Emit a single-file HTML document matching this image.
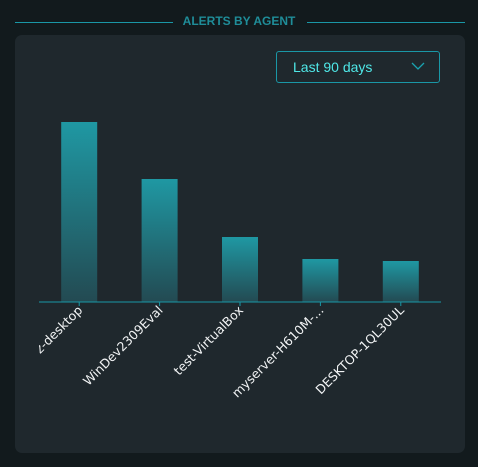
<!DOCTYPE html>
<html><head><meta charset="utf-8"><style>
body{margin:0;width:478px;height:467px;background:#121a1d;font-family:"Liberation Sans",sans-serif;overflow:hidden;position:relative}
.t{position:absolute;top:14px;left:0;width:478px;text-align:center;color:#1f8d99;font-weight:bold;font-size:12px}
.ln{position:absolute;top:22px;height:1px;background:#1a97a6}
.card{position:absolute;left:15px;top:35px;width:450px;height:418px;background:#1f282d;border-radius:7px;overflow:hidden}
.dd{position:absolute;left:261px;top:16px;width:162px;height:30px;border:1px solid #1a97a6;border-radius:3px;color:#4fe8e8;font-size:14px}
</style></head><body>
<div class="t">ALERTS BY AGENT</div>
<div class="ln" style="left:15px;width:158px"></div>
<div class="ln" style="left:307px;width:158px"></div>
<div class="card">
<div class="dd"><span style="position:absolute;left:16px;top:7px">Last 90 days</span>
<svg style="position:absolute;left:134px;top:9px" width="14" height="10"><path d="M1 2 L7 8 L13 2" stroke="#1aa3b0" fill="none" stroke-width="1.3"/></svg></div>
<svg id="c" width="450" height="418" style="position:absolute;left:0;top:0">
<defs><linearGradient id="g" x1="0" y1="0" x2="0" y2="1"><stop offset="0" stop-color="#1f98a3"/><stop offset="1" stop-color="#234a52"/></linearGradient>
<clipPath id="cp"><rect x="24" y="0" width="426" height="418"/></clipPath></defs>
<g id="lab" clip-path="url(#cp)"></g>
</svg></div>
<script>
const categories=["xyz-desktop","WinDev2309Eval","test-VirtualBox","myserver-H610M-...","DESKTOP-1QL30UL"];
const values=[180,123,65,43,41];
const yMax=200;
const svg=document.getElementById('c');const lab=document.getElementById('lab');const NS='http://www.w3.org/2000/svg';
const x0=24,x1=426,yb=267,ph=200;
const bw=(x1-x0)/categories.length;
const X=i=>x0+bw*(i+0.5), Y=v=>yb-v/yMax*ph;
categories.forEach((c,i)=>{
 const r=document.createElementNS(NS,'rect');
 r.setAttribute('x',X(i)-18);r.setAttribute('width',36);r.setAttribute('y',Y(values[i]));r.setAttribute('height',yb-Y(values[i]));r.setAttribute('fill','url(#g)');
 
 
 svg.appendChild(r);
 const tk=document.createElementNS(NS,'line');
 tk.setAttribute('x1',X(i));tk.setAttribute('x2',X(i));tk.setAttribute('y1',yb);tk.setAttribute('y2',yb+4);tk.setAttribute('stroke','#1a97a6');
 
 
 svg.appendChild(tk);
 const t=document.createElementNS(NS,'text');
 t.setAttribute('transform','translate('+(X(i)+4)+','+(yb+9)+') rotate(-45)');
 t.setAttribute('text-anchor','end');t.setAttribute('fill','#f2f4f5');t.setAttribute('font-size','12.5');t.setAttribute('font-family','DejaVu Sans, sans-serif');
 t.textContent=c;
 
 
 lab.appendChild(t);
});
const ax=document.createElementNS(NS,'line');
ax.setAttribute('x1',x0);ax.setAttribute('x2',x1);ax.setAttribute('y1',yb);ax.setAttribute('y2',yb);ax.setAttribute('stroke','#1a97a6');


svg.appendChild(ax);
</script>
</body></html>
